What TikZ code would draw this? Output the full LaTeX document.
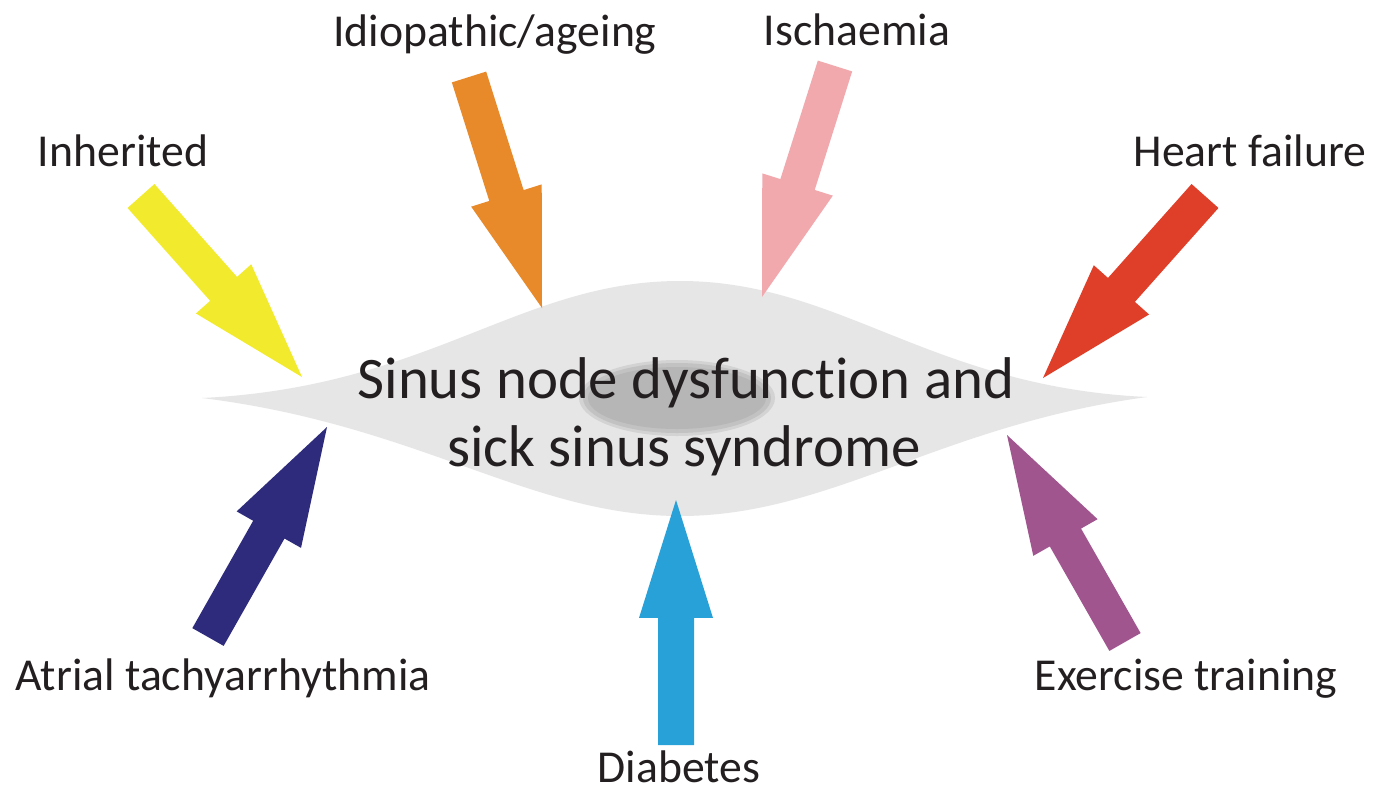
\documentclass[tikz,border=0pt]{standalone}
\usepackage{fontspec}
\setmainfont{Carlito}[Ligatures=NoCommon]
\usetikzlibrary{calc}
\definecolor{cyellow}{RGB}{242,234,45}
\definecolor{corange}{RGB}{232,137,42}
\definecolor{cpink}{RGB}{242,169,174}
\definecolor{cred}{RGB}{223,62,40}
\definecolor{cnavy}{RGB}{46,43,124}
\definecolor{cpurple}{RGB}{160,85,143}
\definecolor{cblue}{RGB}{40,160,216}
\definecolor{clens}{RGB}{230,230,230}
\definecolor{cinner}{RGB}{182,182,182}
\definecolor{ctext}{RGB}{35,31,32}
\newcommand{\blockarrow}[3]{%
  \coordinate (ba-h) at ($(#3)!2.36cm!(#2)$);
  \fill[#1] ($(#2)!0.36cm!90:(#3)$) -- ($(ba-h)!0.36cm!-90:(#2)$) -- ($(ba-h)!0.74cm!-90:(#2)$) -- (#3)
    -- ($(ba-h)!0.74cm!90:(#2)$) -- ($(ba-h)!0.36cm!90:(#2)$) -- ($(#2)!0.36cm!-90:(#3)$) -- cycle;
}
\tikzset{
  lbl/.style={anchor=base, text=ctext, inner sep=0pt, font=\fontsize{26}{31}\selectfont},
  ctr/.style={anchor=base, text=ctext, inner sep=0pt, font=\fontsize{33.5}{38}\selectfont},
}
\begin{document}
\begin{tikzpicture}[x=0.02cm, y=-0.02cm]
\useasboundingbox[fill=white] (0,0) rectangle (1373,792);
% lens
\fill[clens] (202,398) .. controls (430,387) and (520,281) .. (680,281)
  .. controls (840,281) and (930,387) .. (1147,397)
  .. controls (940,425) and (830,516) .. (680,516)
  .. controls (530,516) and (420,425) .. (202,398) -- cycle;
\fill[cinner!40!clens] (677,398) ellipse [x radius=98, y radius=38];
\fill[cinner!75!clens] (677,398) ellipse [x radius=94, y radius=35];
\fill[cinner] (677,398) ellipse [x radius=89, y radius=31];
% text
\node[ctr] (l1) at (686,398) {Sinus node dysfunc\kern0pt tion and};
\node[ctr] (l2) at (684,466) {sick sinus syndrome};
% labels
\node[lbl] (inh) at (123,166) {Inherited};
\node[lbl] (idi) at (495,46) {Idiopathic/ageing};
\node[lbl] (isc) at (857,45) {Ischaemia};
\node[lbl] (hf) at (1250,166) {Heart failure};
\node[lbl] (atr) at (223,690) {Atrial tachyarrhythmia};
\node[lbl] (dia) at (679,782) {Diabetes};
\node[lbl] (exe) at (1186,690) {Exercise training};
% arrow ends
\coordinate (tY) at (141,196); \coordinate (pY) at (302,377);
\coordinate (tO) at (469,77);  \coordinate (pO) at (542,308);
\coordinate (tP) at (835,66);  \coordinate (pP) at (762,297);
\coordinate (tR) at (1205,196); \coordinate (pR) at (1043,378);
\coordinate (tN) at (208,637); \coordinate (pN) at (327,427);
\coordinate (tB) at (676,745); \coordinate (pB) at (676,500);
\coordinate (tU) at (1125,642); \coordinate (pU) at (1007,435);
\blockarrow{cyellow}{tY}{pY}
\blockarrow{corange}{tO}{pO}
\blockarrow{cpink}{tP}{pP}
\blockarrow{cred}{tR}{pR}
\blockarrow{cnavy}{tN}{pN}
\blockarrow{cblue}{tB}{pB}
\blockarrow{cpurple}{tU}{pU}
\end{tikzpicture}
\end{document}
